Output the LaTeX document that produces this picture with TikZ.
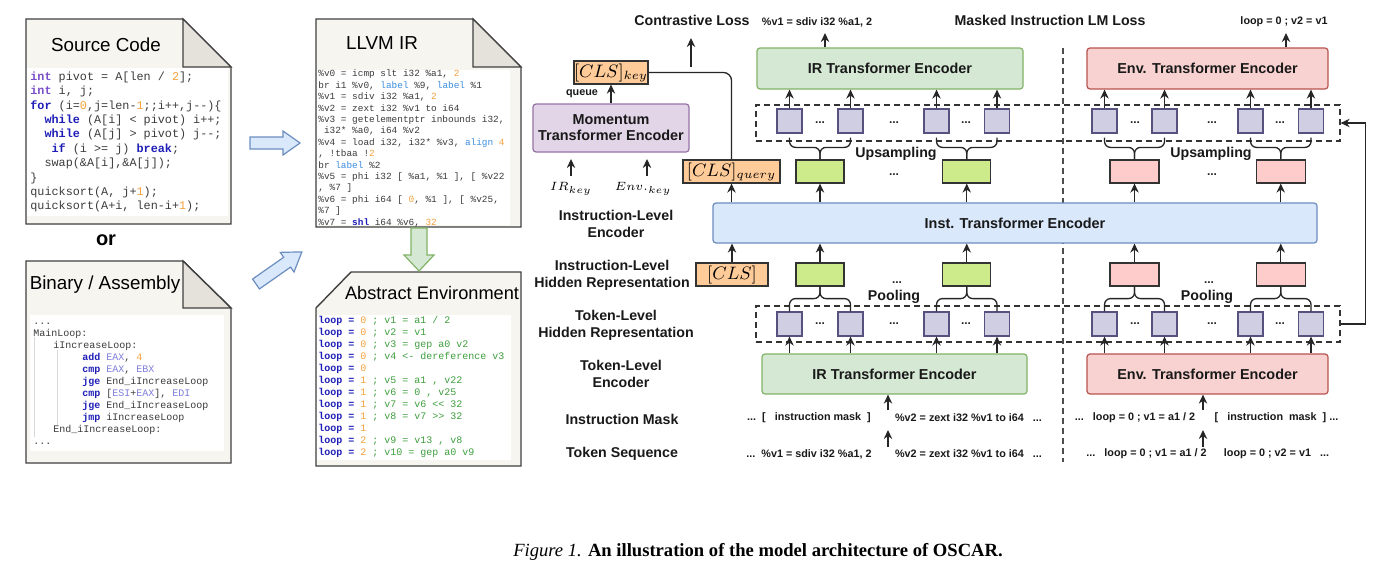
\documentclass[tikz,border=0pt]{standalone}
\usepackage{fontspec}
\setmainfont{Liberation Serif}
\setsansfont{Liberation Sans}
\setmonofont{Liberation Mono}
\usetikzlibrary{arrows.meta,calc}
\definecolor{docbg}{HTML}{F7F5EF}
\definecolor{docfold}{HTML}{E4E2DA}
\definecolor{grnF}{HTML}{D5E8D4}
\definecolor{grnD}{HTML}{82B366}
\definecolor{redF}{HTML}{F8D2D0}
\definecolor{redD}{HTML}{B85450}
\definecolor{bluF}{HTML}{DAE8FC}
\definecolor{bluD}{HTML}{6C8EBF}
\definecolor{purF}{HTML}{E1D5E7}
\definecolor{purD}{HTML}{9673A6}
\definecolor{orgF}{HTML}{FFCC99}
\definecolor{limeF}{HTML}{CDEB8B}
\definecolor{pinkF}{HTML}{FFCCCC}
\definecolor{sqF}{HTML}{D0CEE2}
\definecolor{sqD}{HTML}{56517E}
\definecolor{codeC}{HTML}{3C3C3C}
\definecolor{ckw}{HTML}{7B4FC9}
\definecolor{cblue}{HTML}{1F1FB8}
\definecolor{cnum}{HTML}{F5A13C}
\definecolor{clab}{HTML}{3D8FE0}
\definecolor{cgrn}{HTML}{3E9E3E}
\definecolor{cregc}{HTML}{7E7EDC}
\newcommand\fsz[2]{\fontsize{#1}{#2}\selectfont}
\newcommand\xk[1]{{\color{ckw}\bfseries #1}}
\newcommand\xb[1]{{\color{cblue}\bfseries #1}}
\newcommand\xn[1]{{\color{cnum}#1}}
\newcommand\xl[1]{{\color{clab}#1}}
\newcommand\xg[1]{{\color{cgrn}#1}}
\newcommand\xr[1]{{\color{cregc}#1}}
\newcommand\lp[2]{{\color{cblue}\bfseries loop =}\ \xn{#1}\ \xg{#2}}
\begin{document}
\begin{tikzpicture}[x=0.5pt,y=-0.5pt,
  arr/.style={-{Stealth[length=4.5pt,width=4.2pt]}, line width=0.65pt, draw=black!85},
  enc/.style={draw, rounded corners=1.5pt, line width=0.6pt, font=\sffamily\bfseries\fsz{7.2}{8.6}, inner sep=0pt, text=black!90},
  sq/.style={draw=sqD, fill=sqF, line width=0.6pt, minimum width=12.5pt, minimum height=12pt, inner sep=0pt},
  sbox/.style={draw=black!80, line width=0.6pt, minimum height=11.5pt, inner sep=0pt, font=\fsz{9}{10}},
  lbl/.style={font=\sffamily\bfseries\fsz{7.1}{8.5}, align=center, inner sep=0pt, text=black!90},
  sm/.style={font=\sffamily\bfseries\fsz{5.4}{6.5}, inner sep=0pt, text=black!90},
  dots/.style={font=\sffamily\bfseries\fsz{6}{7}, inner sep=0pt, anchor=base, text=black!85},
  dbox/.style={draw=black!80, dash pattern=on 3pt off 2pt, line width=0.6pt, minimum width=292pt, minimum height=18pt, inner sep=0pt},
  sep/.style={draw=black!70, dash pattern=on 3pt off 2pt, line width=0.6pt},
  brc/.style={line width=0.65pt, draw=black!85, rounded corners=3pt},
  code/.style={align=left, inner sep=0pt, anchor=north west, text=codeC},
  doc/.style={draw=black!75, line width=0.7pt, fill=docbg},
  ttl/.style={font=\sffamily\fsz{9.4}{11}, inner sep=0pt},
  harr/.style={fill=bluF, draw=bluD, line width=0.6pt},
  mth/.style={inner sep=0pt, font=\fsz{6}{7}}
]
\useasboundingbox (0,0) rectangle (1386,573);
\fill[white] (0,0) rectangle (1386,573);

% ---------- documents ----------
\draw[doc] (26,19) -- (183,19) -- (231,67) -- (231,224) -- (26,224) -- cycle;
\filldraw[draw=black!75, line width=0.7pt, fill=docfold] (183,19) -- (183,67) -- (231,67) -- cycle;
\fill[white] (27,68) rectangle (228,216);
\node[ttl] (srct) at (106,45) {Source Code};
\node[code, font=\ttfamily\fsz{5.9}{7.2}] (srcc) at (30,70.5) {\rule{0pt}{0.8em}\xk{int} pivot = A[len / \xn{2}];\\
\xk{int} i, j;\\
\xb{for} (i=\xn{0},j=len-\xn{1};;i++,j-{}-)\{\\
\hspace*{1.2em}\xb{while} (A[i] < pivot) i++;\\
\hspace*{1.2em}\xb{while} (A[j] > pivot) j-{}-;\\
\hspace*{1.8em}\xb{if} (i >= j) \xb{break};\\
\hspace*{1.2em}swap(\&A[i],\&A[j]);\\
\}\\
quicksort(A, j+\xn{1});\\
quicksort(A+i, len-i+\xn{1});};

\node[font=\sffamily\bfseries\fsz{10}{12}, inner sep=0pt] (ortxt) at (106,240) {or};

\draw[doc] (26,261) -- (183,261) -- (231,308) -- (231,463) -- (26,463) -- cycle;
\filldraw[draw=black!75, line width=0.7pt, fill=docfold] (183,261) -- (183,308) -- (231,308) -- cycle;
\fill[white] (30,315) rectangle (224,451);
\draw[black!15, line width=0.4pt] (34,337) -- (34,437) (57,350) -- (57,425);
\node[ttl] (asmt) at (105,285) {Binary / Assembly};
\node[code, font=\ttfamily\fsz{5}{6}] (asmc) at (33,315.6) {\rule{0pt}{0.8em}...\\
MainLoop:\\
\hspace*{10pt}iIncreaseLoop:\\
\hspace*{24.5pt}\xb{add} \xr{EAX}, \xn{4}\\
\hspace*{24.5pt}\xb{cmp} \xr{EAX}, \xr{EBX}\\
\hspace*{24.5pt}\xb{jge} End\_iIncreaseLoop\\
\hspace*{24.5pt}\xb{cmp} [\xr{ESI}+\xr{EAX}], \xr{EDI}\\
\hspace*{24.5pt}\xb{jge} End\_iIncreaseLoop\\
\hspace*{24.5pt}\xb{jmp} iIncreaseLoop\\
\hspace*{10pt}End\_iIncreaseLoop:\\
...};

\draw[doc] (316,19) -- (473,19) -- (521,67) -- (521,227) -- (316,227) -- cycle;
\filldraw[draw=black!75, line width=0.7pt, fill=docfold] (473,19) -- (473,67) -- (521,67) -- cycle;
\fill[white] (317,70) rectangle (510,225);
\node[ttl] (llt) at (382,43) {LLVM IR};
\node[code, font=\ttfamily\fsz{4.7}{5.7}] (llc) at (318,69) {\rule{0pt}{0.8em}\%v0 = icmp slt i32 \%a1, \xn{2}\\
br i1 \%v0, \xl{label} \%9, \xl{label} \%1\\
\%v1 = sdiv i32 \%a1, \xn{2}\\
\%v2 = zext i32 \%v1 to i64\\
\%v3 = getelementptr inbounds i32,\\
\ i32* \%a0, i64 \%v2\\
\%v4 = load i32, i32* \%v3, \xl{align} \xn{4}\\
, !tbaa !\xn{2}\\
br \xl{label} \%2\\
\%v5 = phi i32 [ \%a1, \%1 ], [ \%v22\\
, \%7 ]\\
\%v6 = phi i64 [ \xn{0}, \%1 ], [ \%v25,\\
\%7 ]\\
\%v7 = \xb{shl} i64 \%v6, \xn{32}};

\draw[doc] (316,308) -- (351,272) -- (521,272) -- (521,466) -- (316,466) -- cycle;
\fill[white] (317,315) rectangle (511,460);
\node[ttl, font=\sffamily\fsz{9.1}{11}] (envt) at (432,293) {Abstract Environment};
\node[code, font=\ttfamily\fsz{5}{6}] (envc) at (318,314.6) {\rule{0pt}{0.8em}\lp{0}{; v1 = a1 / 2}\\
\lp{0}{; v2 = v1}\\
\lp{0}{; v3 = gep a0 v2}\\
\lp{0}{; v4 <- dereference v3}\\
\lp{0}{}\\
\lp{1}{; v5 = a1 , v22}\\
\lp{1}{; v6 = 0 , v25}\\
\lp{1}{; v7 = v6 <{}< 32}\\
\lp{1}{; v8 = v7 >{}> 32}\\
\lp{1}{}\\
\lp{2}{; v9 = v13 , v8}\\
\lp{2}{; v10 = gep a0 v9}};

% hollow arrows
\filldraw[harr] (250,137) -- (283,137) -- (283,131) -- (300,143) -- (283,155) -- (283,149) -- (250,149) -- cycle;
\begin{scope}[shift={(256,284)}, rotate=35]
\filldraw[harr] (0,-6) -- (38,-6) -- (38,-12) -- (56,0) -- (38,12) -- (38,6) -- (0,6) -- cycle;
\end{scope}
\filldraw[fill=grnF, draw=grnD, line width=0.6pt] (411,228) -- (427,228) -- (427,255) -- (434,255) -- (419,271) -- (404,255) -- (411,255) -- cycle;

% ---------- model ----------
\coordinate (sepT) at (1063,48);
\coordinate (sepB) at (1063,462);
\draw[sep] (sepT) -- (sepB);

\node[dbox] (dtop) at (1048,123) {};
\node[dbox] (dbot) at (1048,324) {};

\node[enc, fill=grnF, draw=grnD, minimum width=133pt, minimum height=20.5pt] (irtop) at (890,68.5) {IR Transformer Encoder};
\node[enc, fill=redF, draw=redD, minimum width=120.5pt, minimum height=20.5pt] (envtop) at (1207.5,68.5) {Env. Transformer Encoder};
\node[enc, fill=bluF, draw=bluD, minimum width=302pt, minimum height=20pt] (inst) at (1015,223) {Inst. Transformer Encoder};
\node[enc, fill=grnF, draw=grnD, minimum width=132.5pt, minimum height=20pt] (irbot) at (894.5,374) {IR Transformer Encoder};
\node[enc, fill=redF, draw=redD, minimum width=120.5pt, minimum height=20pt] (envbot) at (1207.5,374) {Env. Transformer Encoder};
\node[enc, fill=purF, draw=purD, minimum width=78pt, minimum height=24pt, align=center, font=\sffamily\bfseries\fsz{7.2}{8}] (mom) at (611,128) {Momentum\\Transformer Encoder};

\foreach \x [count=\i] in {789.5,850.5,936.5,997,1104.5,1164.5,1250.5,1311} {
  \node[sq] (su\i) at (\x,121) {};
  \node[sq] (sl\i) at (\x,324) {};
}
\foreach \i in {1,...,4} {
  \draw[arr] (su\i.north) -- (su\i.north |- irtop.south);
  \draw[arr] (irbot.north -| sl\i.south) -- (sl\i.south);
}
\foreach \i in {5,...,8} {
  \draw[arr] (su\i.north) -- (su\i.north |- envtop.south);
  \draw[arr] (envbot.north -| sl\i.south) -- (sl\i.south);
}

\node[sbox, fill=orgF, minimum width=37pt] (ckey) at (611,72.5) {$[CLS]_{key}$};
\node[sbox, fill=orgF, minimum width=48.5pt] (cq) at (731.5,171.5) {$[CLS]_{query}$};
\node[sbox, fill=orgF, minimum width=36pt] (cls) at (732,274.5) {$[CLS]$};

\node[sbox, fill=limeF, minimum width=24pt] (gu1) at (820,171.5) {};
\node[sbox, fill=limeF, minimum width=24pt] (gu2) at (966.75,171.5) {};
\node[sbox, fill=pinkF, minimum width=24.5pt] (pu1) at (1134.5,171.5) {};
\node[sbox, fill=pinkF, minimum width=24.5pt] (pu2) at (1280.75,171.5) {};
\node[sbox, fill=limeF, minimum width=24pt] (gl1) at (820,274.5) {};
\node[sbox, fill=limeF, minimum width=24pt] (gl2) at (966.75,274.5) {};
\node[sbox, fill=pinkF, minimum width=24.5pt] (pl1) at (1134.5,274.5) {};
\node[sbox, fill=pinkF, minimum width=24.5pt] (pl2) at (1280.75,274.5) {};

% inst encoder connections
\foreach \n in {cq,gu1,gu2,pu1,pu2} \draw[arr] (inst.north -| \n.south) -- (\n.south);
\foreach \n in {cls,gl1,gl2,pl1,pl2} \draw[arr] (\n.north) -- (\n.north |- inst.south);

% braces
\foreach \a/\b/\t in {su1/su2/gu1, su3/su4/gu2, su5/su6/pu1, su7/su8/pu2} {
  \draw[brc] ($(\a.south)+(0,4)$) |- ($(\t.north)+(0,-12)$) -- (\t.north);
  \draw[brc] ($(\b.south)+(0,4)$) |- ($(\t.north)+(0,-12)$) -- (\t.north);
}
\foreach \a/\b/\t in {sl1/sl2/gl1, sl3/sl4/gl2, sl5/sl6/pl1, sl7/sl8/pl2} {
  \draw[brc] (\a.north) |- ($(\t.south)+(0,12)$) -- (\t.south);
  \draw[brc] (\b.north) |- ($(\t.south)+(0,12)$) -- (\t.south);
}
\node[lbl] (ups1) at (896,154) {Upsampling};
\node[lbl] (ups2) at (1211,154) {Upsampling};
\node[lbl] (pool1) at (894,297) {Pooling};
\node[lbl] (pool2) at (1207,297) {Pooling};

% dots
\node[dots] (du1) at (820,123) {...};
\node[dots] (du2) at (894,123) {...};
\node[dots] (du3) at (966,123) {...};
\node[dots] (du4) at (1135,123) {...};
\node[dots] (du5) at (1212,123) {...};
\node[dots] (du6) at (1280,123) {...};
\node[dots] (dl1) at (820,324) {...};
\node[dots] (dl2) at (894,324) {...};
\node[dots] (dl3) at (966,324) {...};
\node[dots] (dl4) at (1135,324) {...};
\node[dots] (dl5) at (1212,324) {...};
\node[dots] (dl6) at (1280,324) {...};
\node[dots] (db1) at (894,175) {...};
\node[dots] (db2) at (1212,175) {...};
\node[dots] (db3) at (897,283) {...};
\node[dots] (db4) at (1209,283) {...};

% feedback
\draw[arr] (dbot.east) -- ++(25,0) |- (dtop.east);

% top outputs
\node[lbl] (closs) at (692,20) {Contrastive Loss};
\node[sm] (out1) at (817,22) {\%v1 = sdiv i32 \%a1, 2};
\node[lbl] (mlm) at (1050,20) {Masked Instruction LM Loss};
\node[sm] (out2) at (1284,22) {loop = 0 ; v2 = v1};
\coordinate (o1a) at (825,33);
\coordinate (o2a) at (1286,33);
\draw[arr] (o1a |- irtop.north) -- (o1a);
\draw[arr] (o2a |- envtop.north) -- (o2a);
\coordinate (ca) at (691,67);
\coordinate (cb) at (691,38);
\draw[arr] (ca) -- (cb);
\draw[line width=0.65pt, draw=black!85, rounded corners=4pt] (ckey.east) -| (cq.north);

% momentum
\draw[arr] (mom.north) -- (ckey.south);
\node[sm] (queue) at (582,94) {queue};
\node[mth] (irk) at (571,189) {$IR_{key}$};
\node[mth] (envk) at (643,189) {$Env._{key}$};
\coordinate (irka) at (571,176);
\coordinate (irkb) at (571,159);
\coordinate (envka) at (647,176);
\coordinate (envkb) at (647,159);
\draw[arr] (irka) -- (irkb);
\draw[arr] (envka) -- (envkb);

% left labels
\node[lbl] (lab1) at (616,224) {Instruction-Level\\Encoder};
\node[lbl] (lab2) at (612,275) {Instruction-Level\\Hidden Representation};
\node[lbl] (lab3) at (616,325) {Token-Level\\Hidden Representation};
\node[lbl] (lab4) at (621,374) {Token-Level\\Encoder};
\node[lbl] (lab5) at (622,419) {Instruction Mask};
\node[lbl] (lab6) at (622,454) {Token Sequence};

% bottom rows
\node[sm] (m1) at (809,418) {...\ \ [\ \ \ instruction mask\ \ ]};
\node[sm] (m2) at (968.5,418) {\%v2 = zext i32 \%v1 to i64\ \ \ ...};
\node[sm] (m3) at (1135,418) {...\ \ \ loop = 0 ; v1 = a1 / 2};
\node[sm] (m4) at (1276.5,418) {[\ \ \ instruction\ \ mask\ \ ]\ ...};
\node[sm] (t1) at (809,454) {...\ \ \%v1 = sdiv i32 \%a1, 2};
\node[sm] (t2) at (968.5,454) {\%v2 = zext i32 \%v1 to i64\ \ \ ...};
\node[sm] (t3) at (1146.5,454) {...\ \ \ loop = 0 ; v1 = a1 / 2};
\node[sm] (t4) at (1276.5,454) {loop = 0 ; v2 = v1\ \ \ ...};
\coordinate (ma1) at (888,410);
\coordinate (ta1) at (888,447);
\coordinate (tb1) at (888,430);
\coordinate (ma2) at (1203,410);
\coordinate (ta2) at (1203,447);
\coordinate (tb2) at (1203,430);
\draw[arr] (ma1) -- (ma1 |- irbot.south);
\draw[arr] (ta1) -- (tb1);
\draw[arr] (ma2) -- (ma2 |- envbot.south);
\draw[arr] (ta2) -- (tb2);

% caption
\node[font=\fsz{9.3}{11}, inner sep=0pt] (cap) at (758,552) {\textit{Figure 1.} \textbf{An illustration of the model architecture of OSCAR.}};
\end{tikzpicture}
\end{document}
